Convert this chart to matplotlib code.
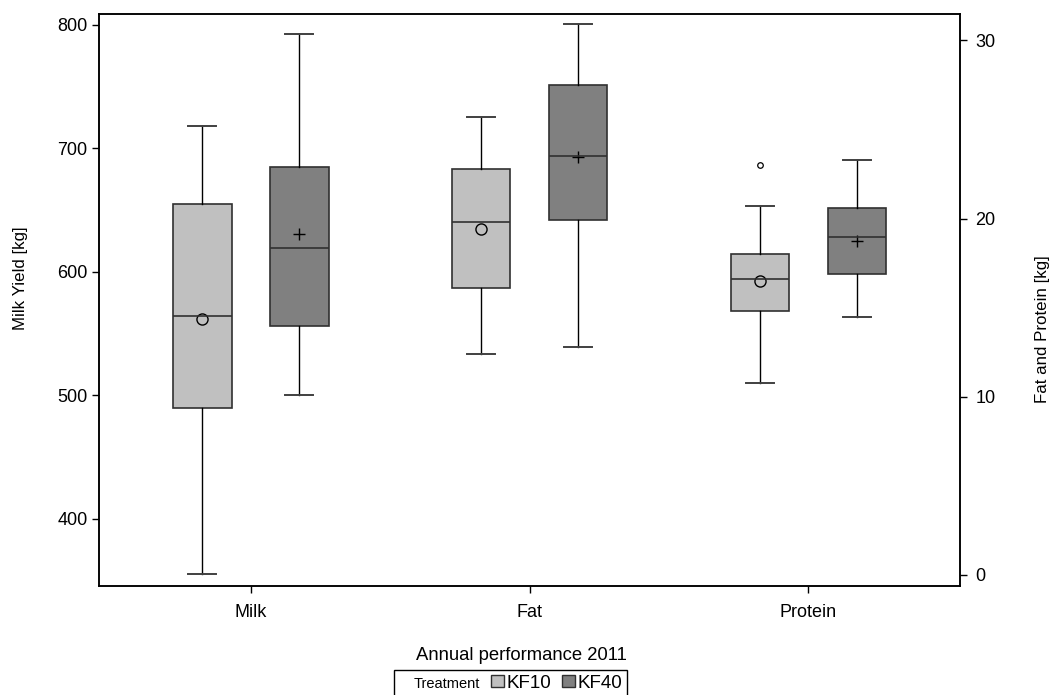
import numpy as np
import matplotlib
matplotlib.use("Agg")
import matplotlib.pyplot as plt
from matplotlib.patches import Patch
from matplotlib.lines import Line2D

plt.rcParams['font.family'] = ['Liberation Sans', 'DejaVu Sans']

# Values
categorias = ["Milk", "Fat", "Protein"]
tratamientos = ["KF10", "KF40"]

# KF10 (Milk on left axis, Fat/Protein on right axis)
kf10_whislo = [355.5, 12.4, 10.8]
kf10_q1 = [490.0, 16.1, 14.8]
kf10_med = [564.0, 19.8, 16.6]
kf10_q3 = [655.0, 22.8, 18.0]
kf10_whishi = [718.0, 25.7, 20.7]
kf10_mean = [562.0, 19.4, 16.5]
kf10_fliers = [[], [], [23.0]]

# KF40
kf40_whislo = [500.6, 12.8, 14.5]
kf40_q1 = [556.0, 19.9, 16.9]
kf40_med = [619.0, 23.5, 18.95]
kf40_q3 = [685.0, 27.5, 20.6]
kf40_whishi = [792.7, 30.9, 23.3]
kf40_mean = [631.0, 23.45, 18.75]

colores = {"KF10": "#c0c0c0", "KF40": "#808080"}


def stats(i, wl, q1, med, q3, wh, fl):
    return dict(whislo=wl[i], q1=q1[i], med=med[i], q3=q3[i], whishi=wh[i],
                fliers=fl[i], mean=None)


datos = {
    "KF10": (kf10_whislo, kf10_q1, kf10_med, kf10_q3, kf10_whishi, kf10_fliers, kf10_mean),
    "KF40": (kf40_whislo, kf40_q1, kf40_med, kf40_q3, kf40_whishi, [[], [], []], kf40_mean),
}

fig = plt.figure(figsize=(10.54, 6.95), dpi=100)
ax = fig.add_axes([0.0942, 0.1573, 0.8169, 0.823])
ax2 = ax.twinx()

desplaz = {"KF10": -0.174, "KF40": 0.174}
ancho = 0.21

for t in tratamientos:
    wl, q1, med, q3, wh, fl, media = datos[t]
    for i, cat in enumerate(categorias):
        eje = ax if cat == "Milk" else ax2
        pos = i + desplaz[t]
        eje.bxp([stats(i, wl, q1, med, q3, wh, fl)], positions=[pos], widths=ancho,
                patch_artist=True, showfliers=True, manage_ticks=False,
                boxprops=dict(facecolor=colores[t], edgecolor="#303030", linewidth=1.2),
                medianprops=dict(color="#303030", linewidth=1.2),
                whiskerprops=dict(color="black", linewidth=1.0),
                capprops=dict(color="#404040", linewidth=1.4),
                capwidths=0.1,
                flierprops=dict(marker="o", markersize=4, markerfacecolor="none",
                                markeredgecolor="black", markeredgewidth=0.9))
        if t == "KF10":
            eje.plot(pos, media[i], marker="o", markersize=8, markerfacecolor="none",
                     markeredgecolor="black", markeredgewidth=1.0, linestyle="none")
        else:
            eje.plot(pos, media[i], marker="+", markersize=8, color="black",
                     markeredgewidth=1.0, linestyle="none")

ax.set_xlim(-0.544, 2.545)
ax.set_ylim(346.0, 808.9)
ax2.set_ylim(-0.6, 31.5)
ax.set_xticks(range(len(categorias)))
ax.set_xticklabels(categorias)
ax.set_yticks([400, 500, 600, 700, 800])
ax2.set_yticks([0, 10, 20, 30])

for eje in (ax, ax2):
    for s in eje.spines.values():
        s.set_linewidth(1.1)
        s.set_color("black")
ax.tick_params(axis="both", direction="out", length=5, width=1.0, labelsize=13)
ax.tick_params(axis="x", pad=8)
ax2.tick_params(axis="y", direction="out", length=5, width=1.0, labelsize=13, pad=6)

ax.set_ylabel("Milk Yield [kg]", fontsize=12.2)
ax.yaxis.set_label_coords(-0.0828, 0.538)
ax2.set_ylabel("Fat and Protein [kg]", fontsize=12.2)
ax2.yaxis.set_label_coords(1.0868, 0.449)
ax.set_xlabel("Annual performance 2011", fontsize=13.3)
ax.xaxis.set_label_coords(0.4908, -0.108)

# Leyenda
manijas = [Line2D([], [], linestyle="none"),
           Patch(facecolor=colores["KF10"], edgecolor="#303030"),
           Patch(facecolor=colores["KF40"], edgecolor="#303030")]
etiquetas = ["Treatment"] + tratamientos
leg = fig.legend(manijas, etiquetas, loc="center", bbox_to_anchor=(510.5 / 1054, 1 - 683 / 695),
                 ncol=3, fontsize=13.5, frameon=True, fancybox=False, edgecolor="black",
                 framealpha=1, handlelength=0.65, handleheight=0.65, handletextpad=0.15,
                 columnspacing=0.6, borderpad=0.25)
leg.get_frame().set_linewidth(1.0)
leg.get_texts()[0].set_fontsize(10.5)

fig.savefig("out.png", dpi=100)
